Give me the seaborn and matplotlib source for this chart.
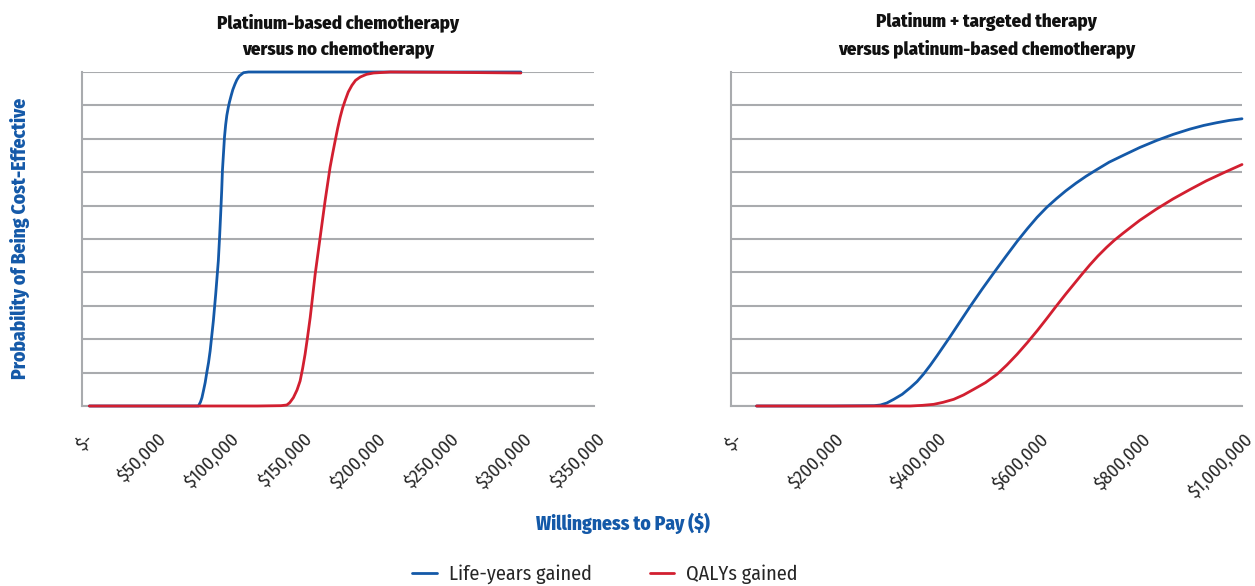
import matplotlib
matplotlib.use("Agg")
import matplotlib.pyplot as plt
import matplotlib.transforms as mtransforms
import pandas as pd
import seaborn as sns

# ── data (willingness to pay in $, probability 0-1) ──
left_life_x = [5000, 60000, 79600, 81000, 82000, 83000, 84200, 85300, 86500,
               87600, 88700, 89800, 90600, 91400, 92300, 93200, 94100, 94900,
               95500, 96000, 96700, 97400, 98200, 99000, 100000, 100800,
               102000, 103100, 104500, 105800, 107500, 110400, 113800,
               150000, 200000, 250000, 300000]
left_life_y = [0.0, 0.0, 0.0, 0.012, 0.025, 0.045, 0.07, 0.10, 0.13,
               0.165, 0.21, 0.255, 0.295, 0.335, 0.385, 0.435, 0.51, 0.585,
               0.645, 0.705, 0.755, 0.805, 0.842, 0.87, 0.894, 0.91,
               0.93, 0.947, 0.963, 0.976, 0.988, 0.998, 1.0,
               1.0, 1.0, 1.0, 1.0]

left_qaly_x = [5000, 80000, 120000, 136000, 140000, 142000, 144500, 147000,
               149100, 150800, 152500, 154300, 156000, 157700, 159400,
               161100, 162800, 164500, 166200, 167900, 169600, 171400,
               173100, 174800, 176500, 178200, 179900, 182000, 184500,
               187000, 190200, 194500, 199300, 210700, 250000, 300000]
left_qaly_y = [0.0, 0.0, 0.0, 0.001, 0.003, 0.01, 0.025, 0.048,
               0.075, 0.112, 0.155, 0.21, 0.265, 0.33, 0.395,
               0.45, 0.505, 0.56, 0.615, 0.665, 0.715, 0.757,
               0.795, 0.832, 0.865, 0.893, 0.915, 0.94, 0.96,
               0.975, 0.985, 0.993, 0.997, 1.0, 0.999, 0.997]

right_life_x = [50000, 200000, 280000, 292500, 305000, 318500, 335000,
                351000, 364000, 377000, 390000, 403000, 416000, 429000,
                448000, 468000, 491000, 514000, 537000, 560000, 580000,
                599000, 618000, 637000, 655000, 675000, 695000, 715000,
                740000, 767000, 800000, 833000, 865000, 898000, 925000,
                950000, 975000, 1000000]
right_life_y = [0.0, 0.0, 0.001, 0.003, 0.009, 0.02, 0.035,
                0.055, 0.073, 0.096, 0.122, 0.15, 0.179, 0.208,
                0.252, 0.298, 0.349, 0.398, 0.446, 0.493, 0.531,
                0.565, 0.595, 0.621, 0.644, 0.667, 0.688, 0.707,
                0.73, 0.75, 0.774, 0.795, 0.813, 0.829, 0.84,
                0.848, 0.855, 0.86]

right_qaly_x = [50000, 300000, 351000, 375000, 396700, 415000, 435800,
                455000, 475000, 498000, 520600, 540000, 560000, 580000,
                599000, 618000, 637000, 655000, 670000, 686000, 702000,
                718000, 735000, 750000, 767000, 783000, 800000, 832000,
                865000, 898000, 930000, 965000, 1000000]
right_qaly_y = [0.0, 0.0, 0.0, 0.002, 0.005, 0.011, 0.02,
                0.033, 0.05, 0.07, 0.095, 0.123, 0.155, 0.19,
                0.225, 0.262, 0.3, 0.335, 0.363, 0.393, 0.422,
                0.449, 0.475, 0.496, 0.517, 0.536, 0.556, 0.589,
                0.62, 0.648, 0.674, 0.699, 0.723]

series_names = ["Life-years gained", "QALYs gained"]

left_ticks = [0, 50000, 100000, 150000, 200000, 250000, 300000, 350000]
left_tick_labels = ["$-", "$50,000", "$100,000", "$150,000", "$200,000",
                    "$250,000", "$300,000", "$350,000"]
right_ticks = [0, 200000, 400000, 600000, 800000, 1000000]
right_tick_labels = ["$-", "$200,000", "$400,000", "$600,000", "$800,000",
                     "$1,000,000"]
y_ticks = [0, 0.1, 0.2, 0.3, 0.4, 0.5, 0.6, 0.7, 0.8, 0.9, 1.0]

left_title = "Platinum-based chemotherapy\nversus no chemotherapy"
right_title = "Platinum + targeted therapy\nversus platinum-based chemotherapy"

BLUE = "#1459A8"
RED = "#D21F30"
GRID = "#A9ABAE"
PALETTE = {series_names[0]: BLUE, series_names[1]: RED}

sns.set_style("white")
plt.rcParams["font.family"] = ["Fira Sans Condensed", "DejaVu Sans"]

W, H = 1255, 586
fig = plt.figure(figsize=(W / 100, H / 100), dpi=100)


def panel_frame(xs_a, ys_a, xs_b, ys_b):
    a = pd.DataFrame({"wtp": xs_a, "prob": ys_a, "measure": series_names[0]})
    b = pd.DataFrame({"wtp": xs_b, "prob": ys_b, "measure": series_names[1]})
    return pd.concat([a, b], ignore_index=True)


def draw_panel(ax, df, xmax, ticks, labels, title):
    sns.lineplot(data=df, x="wtp", y="prob", hue="measure", palette=PALETTE,
                 estimator=None, sort=False, linewidth=2.0, legend=False, ax=ax)
    # lines sit on top of the axis spine, like the original
    for ln in ax.lines:
        ln.set_clip_on(False)
        ln.set_solid_joinstyle("round")
        ln.set_zorder(3)
    ax.set_xlim(0, xmax)
    ax.set_ylim(0, 1)
    ax.set_yticks(y_ticks)
    ax.grid(axis="y", color=GRID, linewidth=1.5)
    ax.set_axisbelow(True)
    for s in ("top", "right"):
        ax.spines[s].set_visible(False)
    for s in ("left", "bottom"):
        ax.spines[s].set_color(GRID)
        ax.spines[s].set_linewidth(1.5)
    ax.tick_params(axis="y", length=10.5, width=1.5, color=GRID, labelleft=False)
    ax.tick_params(axis="x", direction="inout", length=8.5, width=1.5,
                   color=GRID, pad=13, labelsize=13.5, labelcolor="#262626")
    ax.set_xticks(ticks)
    ax.set_xticklabels(labels, rotation=45, ha="right", va="top",
                       rotation_mode="anchor")
    shift = mtransforms.ScaledTranslation(2 / 100, 0, fig.dpi_scale_trans)
    for lbl in ax.get_xticklabels():
        lbl.set_transform(lbl.get_transform() + shift)
    ax.set_xlabel("")
    ax.set_ylabel("")
    ax.set_title(title, fontsize=13.5, fontweight=800, linespacing=1.6,
                 pad=12, color="#111111")


bottom = 1 - 406 / H
height = 334 / H
ax_l = fig.add_axes([82 / W, bottom, (594 - 82) / W, height])
ax_r = fig.add_axes([731 / W, bottom, (1242 - 731) / W, height])

draw_panel(ax_l, panel_frame(left_life_x, left_life_y, left_qaly_x, left_qaly_y),
           350000, left_ticks, left_tick_labels, left_title)
draw_panel(ax_r, panel_frame(right_life_x, right_life_y, right_qaly_x, right_qaly_y),
           1000000, right_ticks, right_tick_labels, right_title)

fig.text(20 / W, 1 - 238 / H, "Probability of Being Cost-Effective",
         rotation=90, ha="center", va="center", fontsize=14,
         fontweight=800, color=BLUE)
fig.text(623 / W, 1 - 523 / H, "Willingness to Pay ($)", ha="center",
         va="center", fontsize=14, fontweight=800, color=BLUE)

handles = [plt.Line2D([], [], color=BLUE, linewidth=2.0),
           plt.Line2D([], [], color=RED, linewidth=2.0)]
fig.legend(handles, series_names, loc="center", ncol=2, frameon=False,
           bbox_to_anchor=(605 / W, 1 - 574 / H), fontsize=14.5,
           handlelength=1.2, handletextpad=0.6, columnspacing=2.9)

fig.savefig("out.png", dpi=100)
